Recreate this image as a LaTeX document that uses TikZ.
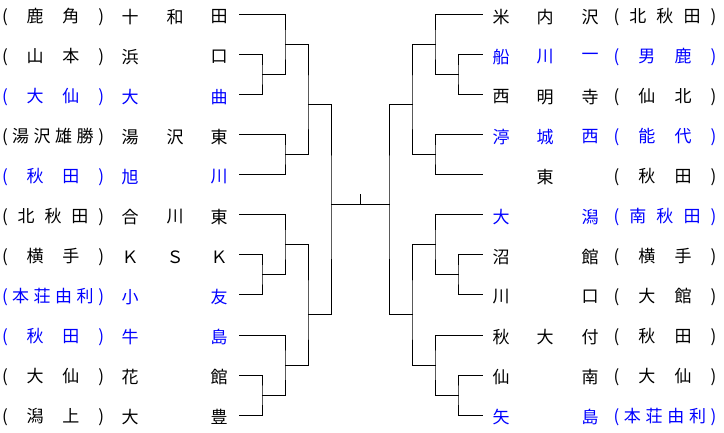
\documentclass[tikz,border=0pt]{standalone}
\usepackage{fontspec}
\setmainfont{Noto Sans CJK JP}
\usepackage{xcolor}
\usetikzlibrary{positioning}
\definecolor{winblue}{RGB}{0,0,255}

\begin{document}
\begin{tikzpicture}[
    x=1pt, y=-1pt,
    every node/.style={font=\fontsize{17}{17}\selectfont, inner sep=0pt},
    kanji/.style={anchor=center},
    area/.style={anchor=center},
    line/.style={line width=1pt, line cap=rect},
]
\useasboundingbox (0,0) rectangle (724,433);

% left side: school names and districts
\foreach \i/\a/\b/\c/\d/\s in {
    1/十/和/田/{(\hfill 鹿\hfill 角\hfill )}/black,
    2/浜//口/{(\hfill 山\hfill 本\hfill )}/black,
    3/大//曲/{(\hfill 大\hfill 仙\hfill )}/winblue,
    4/湯/沢/東/{(\hfill 湯\hfill 沢\hfill 雄\hfill 勝\hfill )}/black,
    5/旭//川/{(\hfill 秋\hfill 田\hfill )}/winblue,
    6/合/川/東/{(\hfill 北\hfill 秋\hfill 田\hfill )}/black,
    7/Ｋ/Ｓ/Ｋ/{(\hfill 横\hfill 手\hfill )}/black,
    8/小//友/{(\hfill 本\hfill 荘\hfill 由\hfill 利\hfill )}/winblue,
    9/牛//島/{(\hfill 秋\hfill 田\hfill )}/winblue,
    10/花//館/{(\hfill 大\hfill 仙\hfill )}/black,
    11/大//豊/{(\hfill 潟\hfill 上\hfill )}/black} {
  \node[kanji, text=\s] (la\i) at (130,{40*\i-23}) {\a};
  \node[kanji, text=\s] (lb\i) at (175,{40*\i-23}) {\b};
  \node[kanji, text=\s] (lc\i) at (219,{40*\i-23}) {\c};
  \node[area, text=\s]  (ld\i) at (53,{40*\i-23}) {\hbox to 102pt{\d}};
  \coordinate (l\i) at (239,{40*\i-25});
}

% right side: school names and districts
\foreach \i/\a/\b/\c/\d/\s in {
    1/米/内/沢/{(\hfill 北\hfill 秋\hfill 田\hfill )}/black,
    2/船/川/一/{(\hfill 男\hfill 鹿\hfill )}/winblue,
    3/西/明/寺/{(\hfill 仙\hfill 北\hfill )}/black,
    4/渟/城/西/{(\hfill 能\hfill 代\hfill )}/winblue,
    5//東//{(\hfill 秋\hfill 田\hfill )}/black,
    6/大//潟/{(\hfill 南\hfill 秋\hfill 田\hfill )}/winblue,
    7/沼//館/{(\hfill 横\hfill 手\hfill )}/black,
    8/川//口/{(\hfill 大\hfill 館\hfill )}/black,
    9/秋/大/付/{(\hfill 秋\hfill 田\hfill )}/black,
    10/仙//南/{(\hfill 大\hfill 仙\hfill )}/black,
    11/矢//島/{(\hfill 本\hfill 荘\hfill 由\hfill 利\hfill )}/winblue} {
  \node[kanji, text=\s] (ra\i) at (501,{40*\i-23}) {\a};
  \node[kanji, text=\s] (rb\i) at (545,{40*\i-23}) {\b};
  \node[kanji, text=\s] (rc\i) at (590,{40*\i-23}) {\c};
  \node[area, text=\s]  (rd\i) at (665,{40*\i-23}) {\hbox to 103pt{\d}};
  \coordinate (r\i) at (482,{40*\i-25});
}

% left bracket
\coordinate (m23)   at (262,75);
\coordinate (m1)    at (285,45);
\coordinate (m45)   at (285,155);
\coordinate (mA)    at (308,105);
\coordinate (m78)   at (262,275);
\coordinate (m6)    at (285,245);
\coordinate (m1011) at (262,395);
\coordinate (m9)    at (285,365);
\coordinate (mB)    at (308,315);
\coordinate (mL)    at (331,205);

% right bracket
\coordinate (n23)   at (458,75);
\coordinate (n1)    at (435,45);
\coordinate (n45)   at (435,155);
\coordinate (nA)    at (412,105);
\coordinate (n78)   at (458,275);
\coordinate (n6)    at (435,245);
\coordinate (n1011) at (458,395);
\coordinate (n9)    at (435,365);
\coordinate (nB)    at (412,315);
\coordinate (nR)    at (389,205);
\coordinate (champ) at (360,195);

\draw[line] (l2) -| (m23) |- (l3);
\draw[line] (l1) -| (m1) |- (m23);
\draw[line] (l4) -| (m45) |- (l5);
\draw[line] (m1) -| (mA) |- (m45);
\draw[line] (l7) -| (m78) |- (l8);
\draw[line] (l6) -| (m6) |- (m78);
\draw[line] (l10) -| (m1011) |- (l11);
\draw[line] (l9) -| (m9) |- (m1011);
\draw[line] (m6) -| (mB) |- (m9);
\draw[line] (mA) -| (mL) |- (mB);

\draw[line] (r2) -| (n23) |- (r3);
\draw[line] (r1) -| (n1) |- (n23);
\draw[line] (r4) -| (n45) |- (r5);
\draw[line] (n1) -| (nA) |- (n45);
\draw[line] (r7) -| (n78) |- (r8);
\draw[line] (r6) -| (n6) |- (n78);
\draw[line] (r10) -| (n1011) |- (r11);
\draw[line] (r9) -| (n9) |- (n1011);
\draw[line] (n6) -| (nB) |- (n9);
\draw[line] (nA) -| (nR) |- (nB);

% final
\draw[line] (mL) -- (nR);
\draw[line] (champ) -- (champ |- mL);
\end{tikzpicture}
\end{document}
